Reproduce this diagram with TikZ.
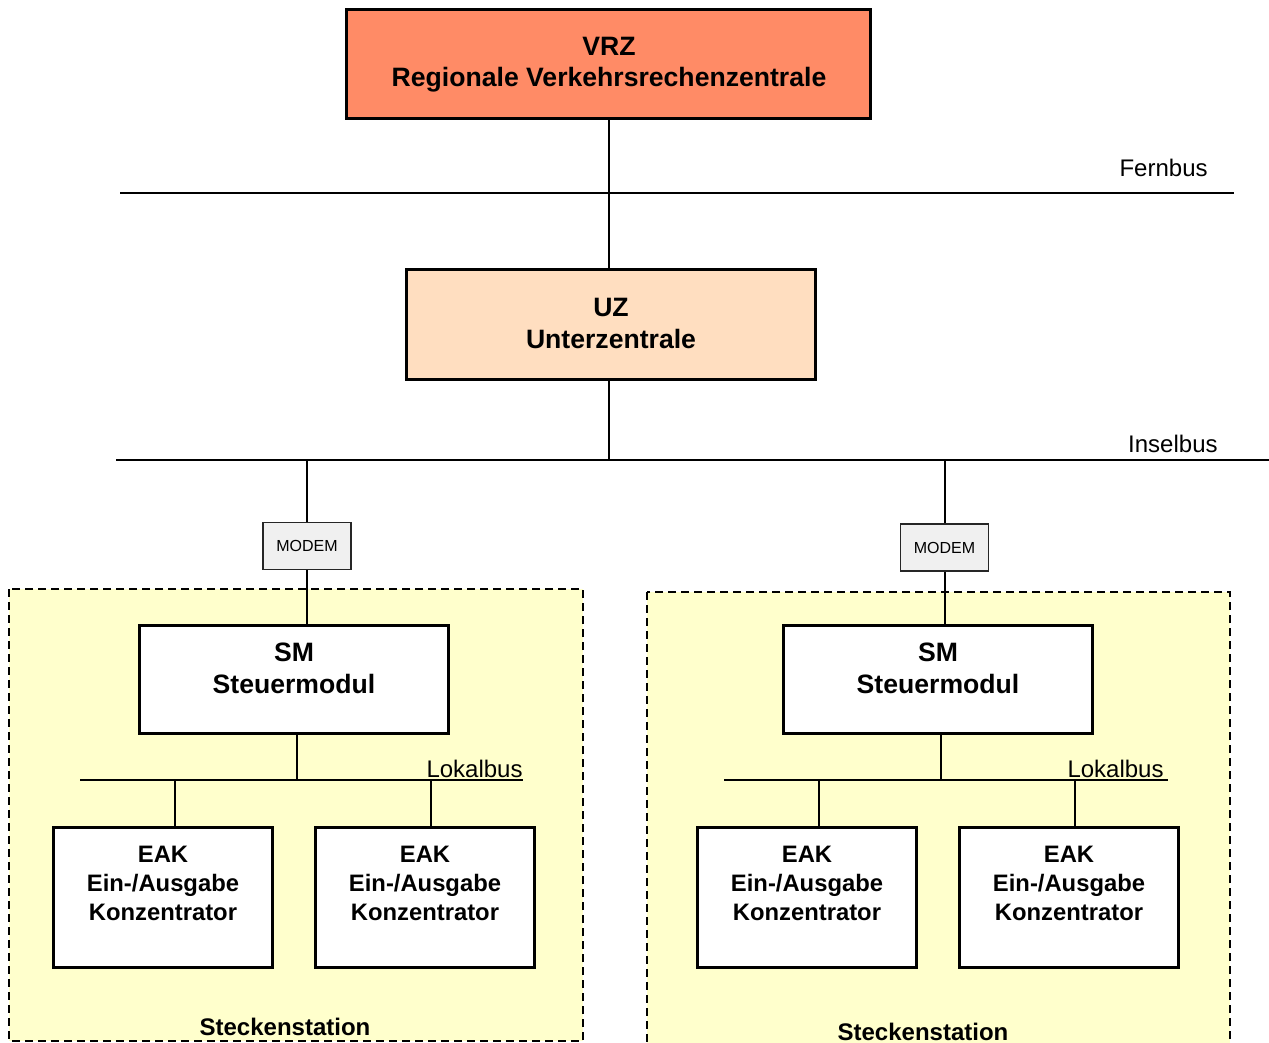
\documentclass[tikz,border=0pt]{standalone}
\usepackage{fontspec}
\setmainfont{Liberation Sans}
\definecolor{vrzfill}{RGB}{255,139,102}
\definecolor{uzfill}{RGB}{255,222,192}
\definecolor{stationyellow}{RGB}{255,255,204}
\definecolor{modemfill}{RGB}{240,240,240}
\begin{document}
\begin{tikzpicture}[x=0.5pt,y=-0.5pt,
  box/.style={draw=black, line width=1.75pt, rectangle, inner sep=0pt},
  big/.style={font=\fontsize{13.3}{15.85}\selectfont\bfseries, align=center, inner sep=0pt, anchor=base},
  mid/.style={font=\fontsize{11.9}{14.5}\selectfont\bfseries, align=center, inner sep=0pt, anchor=base},
  buslbl/.style={font=\fontsize{12}{14}\selectfont, inner sep=0pt, anchor=base east},
  bus/.style={line width=1pt},
  conn/.style={line width=1pt},
  modembox/.style={draw=black!85, fill=modemfill, line width=0.85pt, rectangle, inner sep=0pt,
     minimum width=44pt, minimum height=23.5pt, font=\fontsize{8}{9}\selectfont},
  station/.style={draw=black, dash pattern=on 4pt off 2.5pt, line width=1pt, fill=stationyellow}
]
\clip (0,0) rectangle (1269,1043);
\fill[white] (0,0) rectangle (1269,1043);

% stations
\draw[station] (9,589) rectangle (583,1041);
\draw[station] (647,592) rectangle (1230,1070);
\node[mid, font=\fontsize{12}{14}\selectfont\bfseries] (st1) at (285,1035) {Steckenstation};
\node[mid, font=\fontsize{12}{14}\selectfont\bfseries] (st2) at (923,1040) {Steckenstation};

% buses
\coordinate (fernL) at (120,193);
\coordinate (fernR) at (1234,193);
\coordinate (inselL) at (116,460);
\coordinate (inselR) at (1269,460);
\draw[bus] (fernL) -- (fernR);
\draw[bus] (inselL) -- (inselR);
\node[buslbl] (fernlbl) at (1208,177) {Fernbus};
\node[buslbl] (insellbl) at (1218,452) {Inselbus};

\coordinate (lokL1) at (80,780);
\coordinate (lokR1) at (523,780);
\coordinate (lokL2) at (724,780);
\coordinate (lokR2) at (1168,780);
\draw[bus] (lokL1) -- (lokR1);
\draw[bus] (lokL2) -- (lokR2);
\node[buslbl] (loklbl1) at (523,777.5) {Lokalbus};
\node[buslbl] (loklbl2) at (1164,777.5) {Lokalbus};

% boxes
\node[box, fill=vrzfill, minimum width=262pt, minimum height=54.5pt] (vrz) at (608.5,64) {};
\node[big] (vrzt) at (609,87) {VRZ\\Regionale Verkehrsrechenzentrale};

\node[box, fill=uzfill, minimum width=204.5pt, minimum height=55pt] (uz) at (611,324.5) {};
\node[big] (uzt) at (611,348.5) {UZ\\Unterzentrale};

\node[modembox] (m1) at (307,546) {MODEM};
\node[modembox] (m2) at (944.5,547.5) {MODEM};

\node[box, fill=white, minimum width=154.5pt, minimum height=54pt] (sm1) at (294,679.5) {};
\node[big] (sm1t) at (294,693) {SM\\Steuermodul};
\node[box, fill=white, minimum width=154.5pt, minimum height=54pt] (sm2) at (938,679.5) {};
\node[big] (sm2t) at (938,693) {SM\\Steuermodul};

\foreach \n/\cx in {e1/163, e2/425, e3/807, e4/1069}{
  \node[box, fill=white, minimum width=109.5pt, minimum height=70pt] (\n) at (\cx,897.5) {};
  \node[mid] (\n t) at (\cx,920.5) {EAK\\Ein-/Ausgabe\\Konzentrator};
}

% connectors
\coordinate (vtap) at (609,193);
\coordinate (itap) at (609,460);
\draw[conn] (vrz.south -| vtap) -- (vtap) -- (vtap |- uz.north);
\draw[conn] (uz.south -| itap) -- (itap);
\draw[conn] (m1.north) -- (m1.north |- inselL);
\draw[conn] (m2.north) -- (m2.north |- inselL);
\draw[conn] (m1.south) -- (m1.south |- sm1.north);
\draw[conn] (m2.south) -- (m2.south |- sm2.north);

\coordinate (l1) at (297,780);
\coordinate (l2) at (941,780);
\draw[conn] (l1 |- sm1.south) -- (l1);
\draw[conn] (l2 |- sm2.south) -- (l2);

\coordinate (d1) at (175,780);
\coordinate (d2) at (431,780);
\coordinate (d3) at (819,780);
\coordinate (d4) at (1075,780);
\draw[conn] (d1) -- (d1 |- e1.north);
\draw[conn] (d2) -- (d2 |- e2.north);
\draw[conn] (d3) -- (d3 |- e3.north);
\draw[conn] (d4) -- (d4 |- e4.north);
\end{tikzpicture}
\end{document}
